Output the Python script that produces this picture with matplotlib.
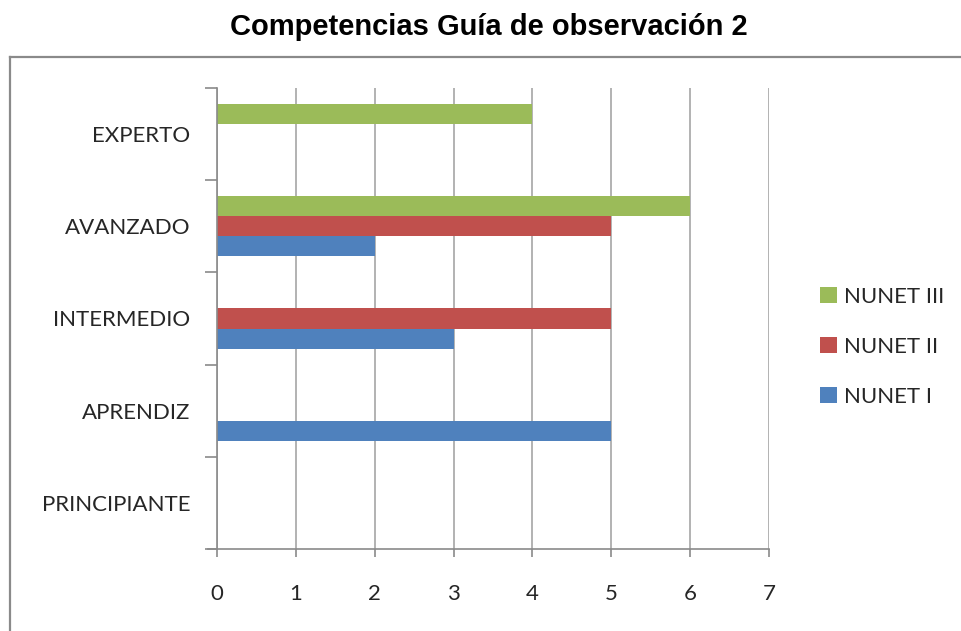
import numpy as np
import matplotlib
matplotlib.use("Agg")
from matplotlib import pyplot as plt
from matplotlib.lines import Line2D

# data
categorias = ["PRINCIPIANTE", "APRENDIZ", "INTERMEDIO", "AVANZADO", "EXPERTO"]
nunet_i = [0, 5, 3, 2, 0]
nunet_ii = [0, 0, 5, 5, 0]
nunet_iii = [0, 0, 0, 6, 4]
x_ticks = [0, 1, 2, 3, 4, 5, 6, 7]

azul, rojo, verde = "#4F81BD", "#C0504D", "#9BBB59"
gris = "#8a8a8a"
label_font = "Lato"
fs = 16

fig = plt.figure(figsize=(9.61, 6.31), dpi=100)
ax = fig.add_axes([217 / 961, 1 - 549 / 631, (769 - 217) / 961, (549 - 88) / 631])

y = np.arange(len(categorias))
h = 0.217
ax.barh(y - h, nunet_i, height=h, color=azul, label="NUNET I")
ax.barh(y, nunet_ii, height=h, color=rojo, label="NUNET II")
ax.barh(y + h, nunet_iii, height=h, color=verde, label="NUNET III")

ax.set_xlim(0, 7)
ax.set_ylim(-0.5, len(categorias) - 0.5)
ax.set_xticks(x_ticks)
ax.set_xticklabels([str(v) for v in x_ticks], fontsize=fs, family=label_font, color="#262626")
ax.set_yticks(y)
ax.set_yticklabels(categorias, fontsize=fs, family=label_font, color="#262626")
ax.tick_params(axis="y", length=0, pad=19)
ax.tick_params(axis="x", length=6, color=gris, width=1.2, pad=19)
ax.set_yticks(np.arange(-0.5, len(categorias), 1), minor=True)
ax.tick_params(axis="y", which="minor", length=9, color=gris, width=1.2)

ax.xaxis.grid(True, color="#a6a6a6", linewidth=1.2)
ax.set_axisbelow(True)
for s in ["top", "right"]:
    ax.spines[s].set_visible(False)
ax.spines["left"].set_color(gris)
ax.spines["bottom"].set_color(gris)
ax.spines["left"].set_linewidth(1.2)
ax.spines["bottom"].set_linewidth(1.2)
# x axis line runs a bit past the y axis like in excel
ax.spines["bottom"].set_bounds(-0.12, 7)

handles, labels = ax.get_legend_handles_labels()
leg = fig.legend(handles[::-1], labels[::-1], loc="center left",
                 bbox_to_anchor=(800 / 961, 1 - 347 / 631), frameon=False,
                 prop={"family": label_font, "size": fs}, handlelength=0.75,
                 handleheight=0.75, handletextpad=0.35, labelspacing=1.35)
for t in leg.get_texts():
    t.set_color("#262626")

fig.text(489 / 961, 1 - 27 / 631, "Competencias Guía de observación 2", ha="center", va="center",
         fontsize=21, fontweight="bold", family="Liberation Sans")

# chart area border (cut off at the right and bottom)
bx, by = 10 / 961, 1 - 57 / 631
fig.add_artist(Line2D([bx, bx], [0, by], color=gris, linewidth=1.6, transform=fig.transFigure))
fig.add_artist(Line2D([bx, 1], [by, by], color=gris, linewidth=1.6, transform=fig.transFigure))

plt.savefig("out.png", dpi=100)
